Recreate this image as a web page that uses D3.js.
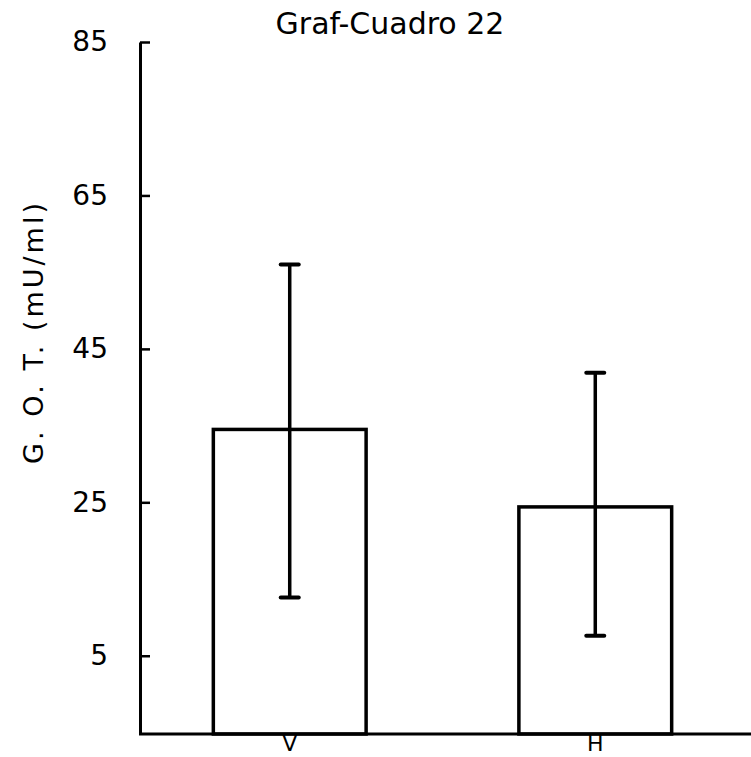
<!DOCTYPE html>
<html>
<head>
<meta charset="utf-8">
<script src="https://cdn.jsdelivr.net/npm/d3@7"></script>
<style>
  body { margin: 0; background: #fff; }
  text { font-family: "DejaVu Sans", sans-serif; fill: #000; }
</style>
</head>
<body>
<div class="chart"></div>
<script>
// data
var groups = ["V", "H"];
var means = [34.5, 24.4];
var upper = [56.0, 41.9];
var lower = [12.6, 7.6];
var tickValues = [5, 25, 45, 65, 85];

var width = 751, height = 757;

var y = d3.scaleLinear()
    .domain([-5.2, 85])
    .range([734, 42]);

var x = d3.scaleBand()
    .domain(groups)
    .range([140, 745])
    .paddingInner(0.5)
    .paddingOuter(0.24);

var svg = d3.select(".chart").append("svg")
    .attr("width", width)
    .attr("height", height);

// title
svg.append("text")
    .attr("x", 390)
    .attr("y", 34)
    .attr("text-anchor", "middle")
    .attr("font-size", 30)
    .text("Graf-Cuadro 22");

// y label
svg.append("text")
    .attr("transform", "translate(43,332) rotate(-90)")
    .attr("text-anchor", "middle")
    .attr("font-size", 27)
    .attr("letter-spacing", 3)
    .text("G. O. T.  (mU/ml)");

// bars
svg.append("g")
    .selectAll("rect")
    .data(groups)
    .enter()
    .append("rect")
    .attr("x", function(d){ return x(d); })
    .attr("y", function(d, i){ return y(means[i]); })
    .attr("width", x.bandwidth())
    .attr("height", function(d, i){ return y(-5.2) - y(means[i]); })
    .attr("fill", "#fff")
    .attr("stroke", "#000")
    .attr("stroke-width", 3.5);

// error bars
var err = svg.append("g").attr("stroke", "#000");
groups.forEach(function(d, i){
    var cx = x(d) + x.bandwidth() / 2;
    err.append("line")
        .attr("x1", cx).attr("x2", cx)
        .attr("y1", y(upper[i])).attr("y2", y(lower[i]))
        .attr("stroke-width", 3.5);
    [upper[i], lower[i]].forEach(function(v){
        err.append("line")
            .attr("x1", cx - 9).attr("x2", cx + 9)
            .attr("y1", y(v)).attr("y2", y(v))
            .attr("stroke-width", 4)
            .attr("stroke-linecap", "round");
    });
});

// y axis
var yAxis = d3.axisLeft(y)
    .tickValues(tickValues)
    .tickSizeInner(-10)
    .tickSizeOuter(0)
    .tickPadding(32);

var gy = svg.append("g")
    .attr("transform", "translate(140,0)")
    .call(yAxis);
gy.select(".domain").attr("stroke-width", 3);
gy.selectAll(".tick line").attr("stroke-width", 2.5);
gy.selectAll(".tick text")
    .attr("font-size", 28)
    .attr("font-family", "DejaVu Sans, sans-serif");

// x axis
svg.append("line")
    .attr("x1", 139).attr("x2", width)
    .attr("y1", y(-5.2)).attr("y2", y(-5.2))
    .attr("stroke", "#000")
    .attr("stroke-width", 3);

svg.append("g")
    .selectAll("text")
    .data(groups)
    .enter()
    .append("text")
    .attr("x", function(d){ return x(d) + x.bandwidth() / 2; })
    .attr("y", 751)
    .attr("text-anchor", "middle")
    .attr("font-size", 22)
    .text(function(d){ return d; });
</script>
</body>
</html>
